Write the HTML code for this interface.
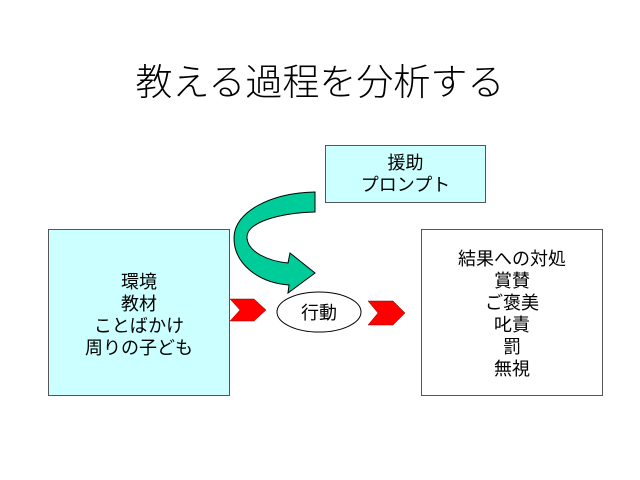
<!DOCTYPE html>
<html><head><meta charset="utf-8"><style>
html,body{margin:0;padding:0;background:#fff;}
body{width:640px;height:480px;position:relative;overflow:hidden;font-family:"Liberation Sans","Noto Sans CJK JP",sans-serif;color:#000;}
.t{position:absolute;left:0;width:640px;top:60px;text-align:center;font-size:37px;line-height:46px;font-weight:300;}
.box{position:absolute;border:1px solid #555;box-sizing:border-box;display:flex;flex-direction:column;justify-content:center;align-items:center;font-size:18px;line-height:22px;text-align:center;}
</style></head><body>
<div class="t">教える過程を分析する</div>
<div class="box" style="left:48px;top:229px;width:182px;height:167px;background:#ccffff;padding-top:4px;">環境<br>教材<br>ことばかけ<br>周りの子ども</div>
<div class="box" style="left:325px;top:145px;width:161px;height:58px;background:#ccffff;">援助<br>プロンプト</div>
<div class="box" style="left:421px;top:229px;width:182px;height:167px;background:#fff;padding-top:2px;">結果への対処<br>賞賛<br>ご褒美<br>叱責<br>罰<br>無視</div>
<svg width="640" height="480" style="position:absolute;left:0;top:0">
<path d="M315,192 L315,212 C280,213 246,222 247,238 C248,252 268,261 288,263 L290,253 L315,273 L288,293 L289,285 C260,283 234,265 234,238 C234,212 270,193 315,192 Z" fill="#00cc99" stroke="#000" stroke-width="1"/>
<path d="M230,299 L254,299 L266,310 L254,321 L230,321 L240,310 Z" fill="#ff0000" stroke="#800" stroke-width="0.5"/>
<path d="M368,301 L393,301 L405,313 L393,325 L368,325 L378,313 Z" fill="#ff0000" stroke="#800" stroke-width="0.5"/>
<ellipse cx="319" cy="312" rx="42" ry="20" fill="#fff" stroke="#000" stroke-width="1"/>
<text x="319" y="319" text-anchor="middle" font-size="18" font-family="Liberation Sans, Noto Sans CJK JP, sans-serif">行動</text>
</svg>
</body></html>
